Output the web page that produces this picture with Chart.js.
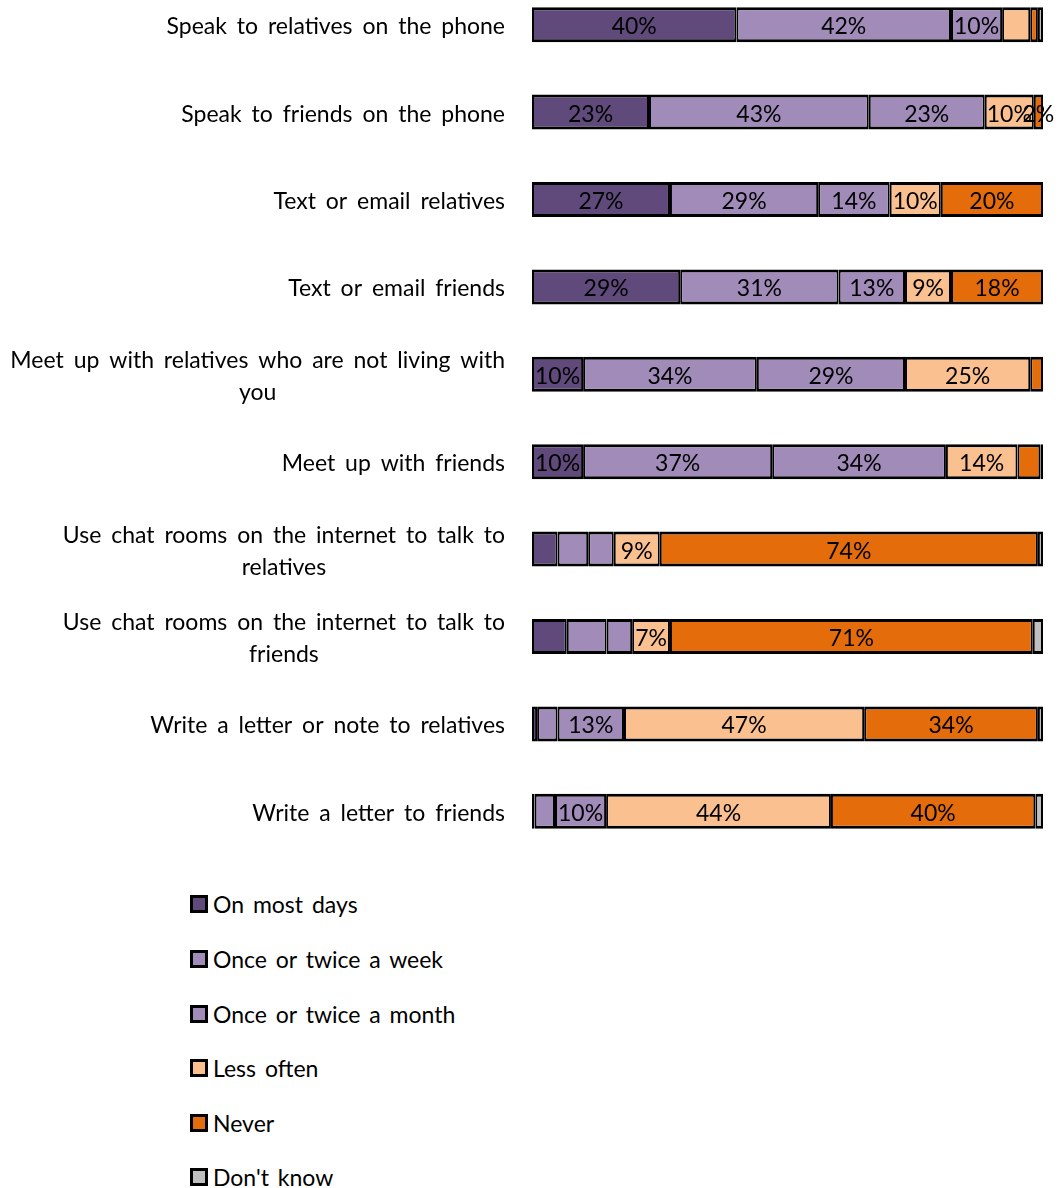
<!DOCTYPE html>
<html>
<head>
<meta charset="utf-8">
<script src="https://cdn.jsdelivr.net/npm/chart.js@4.4.1/dist/chart.umd.min.js"></script>
<style>
    body {
        margin: 0;
        background: #fff;
        width: 1059px;
        height: 1188px;
        overflow: hidden;
        position: relative;
        font-family: Lato, sans-serif;
    }
    #wrap {
        position: absolute;
        left: 0;
        top: -19px;
        width: 1059px;
        height: 874px;
    }
    #legend {
        position: absolute;
        left: 190px;
        top: 0;
    }
    .item {
        position: absolute;
        left: 0;
        height: 28px;
        display: flex;
        align-items: center;
        white-space: nowrap;
        font-size: 23px;
        word-spacing: 3px;
        color: #000;
    }
    .box {
        width: 12px;
        height: 12px;
        border: 3px solid #000;
        margin-right: 5px;
    }
</style>
</head>
<body>
<div id="wrap"><canvas id="chart"></canvas></div>
<div id="legend"></div>
<script>
const categories = [
    ['Speak to relatives on the phone'],
    ['Speak to friends on the phone'],
    ['Text or email relatives'],
    ['Text or email friends'],
    ['Meet up with relatives who are not living with', 'you'],
    ['Meet up with friends'],
    ['Use chat rooms on the internet to talk to', 'relatives'],
    ['Use chat rooms on the internet to talk to', 'friends'],
    ['Write a letter or note to relatives'],
    ['Write a letter to friends'],
]

const seriesNames = ['On most days', 'Once or twice a week', 'Once or twice a month', 'Less often', 'Never', "Don't know"]

const onMostDays = [40, 22.9, 27, 29, 10, 10, 5, 6.8, 1, 0.5]
const onceWeek = [42, 43, 29, 31, 34, 37, 6, 7.8, 4, 4]
const onceMonth = [10, 22.7, 14, 13, 29, 34, 5, 5, 13, 10]
const lessOften = [5.5, 9.6, 10, 9, 24.5, 14, 9, 7.4, 47, 44]
const never = [1.5, 1.8, 20, 18, 2.5, 4.5, 74, 71, 34, 40]
const dontKnow = [1, 0, 0, 0, 0, 0.5, 1, 2, 1, 1.5]

const colors = ['#604a7b', '#a18bb9', '#a18bb9', '#fac090', '#e46c0a', '#bfbfbf']

// labels are shown from 7% upward, with a few exceptions as in the original
const labelMin = 7
const hiddenLabels = [[7, 1]]
const extraLabels = [[1, 4]]

const values = [onMostDays, onceWeek, onceMonth, lessOften, never, dontKnow]

const datasets = values.map((vals, i) => ({
    label: seriesNames[i],
    data: vals,
    backgroundColor: colors[i],
    borderColor: '#000',
    borderWidth: { top: 3, bottom: 3, left: 2, right: 2 },
    borderSkipped: false,
    barPercentage: 0.4,
    categoryPercentage: 1,
}))

function isShown(cat, ser, v) {
    if (extraLabels.some((p) => p[0] === cat && p[1] === ser)) return true
    if (hiddenLabels.some((p) => p[0] === cat && p[1] === ser)) return false
    return v >= labelMin
}

const segmentLabels = {
    id: 'segmentLabels',
    afterDatasetsDraw(chart) {
        const ctx = chart.ctx
        ctx.save()
        ctx.font = '23px Lato'
        ctx.fillStyle = '#000'
        ctx.textAlign = 'center'
        ctx.textBaseline = 'middle'
        chart.data.datasets.forEach((ds, s) => {
            const meta = chart.getDatasetMeta(s)
            meta.data.forEach((bar, c) => {
                const v = ds.data[c]
                if (!isShown(c, s, v)) return
                const p = bar.getProps(['x', 'y', 'base'], true)
                ctx.fillText(Math.round(v) + '%', (p.x + p.base) / 2, p.y + 2)
            })
        })
        ctx.restore()
    },
}

const categoryLabels = {
    id: 'categoryLabels',
    afterDraw(chart) {
        const ctx = chart.ctx
        const yScale = chart.scales.y
        ctx.save()
        ctx.font = '23px Lato'
        ctx.wordSpacing = '4px'
        ctx.fillStyle = '#000'
        ctx.textAlign = 'center'
        ctx.textBaseline = 'middle'
        const right = 505
        const lineH = 32
        categories.forEach((lines, i) => {
            const y = yScale.getPixelForValue(i) + 2
            const w = Math.max(...lines.map((l) => ctx.measureText(l).width))
            const cx = right - w / 2
            lines.forEach((l, k) => {
                ctx.fillText(l, cx, y - ((lines.length - 1) * lineH) / 2 + k * lineH)
            })
        })
        ctx.restore()
    },
}

const chart = new Chart(document.getElementById('chart'), {
    type: 'bar',
    data: {
        labels: categories.map((c) => c.join(' ')),
        datasets: datasets,
    },
    options: {
        indexAxis: 'y',
        responsive: true,
        maintainAspectRatio: false,
        animation: false,
        layout: {
            padding: { left: 532, right: 16, top: 0, bottom: 0 },
        },
        scales: {
            x: { stacked: true, min: 0, max: 100, display: false },
            y: { stacked: true, display: false },
        },
        plugins: {
            legend: { display: false },
            tooltip: { enabled: false },
        },
    },
    plugins: [segmentLabels, categoryLabels],
})

// vertical legend below the bars
const legendEl = document.getElementById('legend')
const legendCenters = [904, 959, 1014, 1068, 1123, 1177]
chart.options.plugins.legend.labels.generateLabels(chart).forEach((item, i) => {
    const row = document.createElement('div')
    row.className = 'item'
    row.style.top = legendCenters[i] - 14 + 'px'
    const box = document.createElement('div')
    box.className = 'box'
    box.style.background = item.fillStyle
    const txt = document.createElement('span')
    txt.textContent = item.text
    row.appendChild(box)
    row.appendChild(txt)
    legendEl.appendChild(row)
})
</script>
</body>
</html>
